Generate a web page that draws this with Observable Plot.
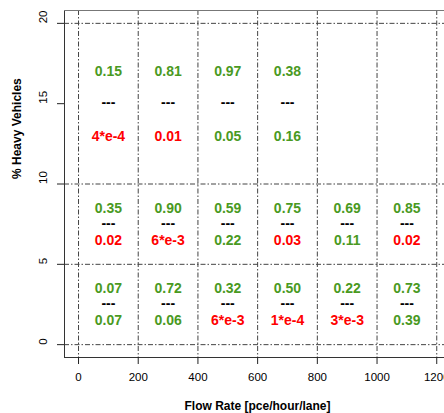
<!DOCTYPE html>
<html>
<head>
<meta charset="utf-8">
<script src="https://cdn.jsdelivr.net/npm/d3@7"></script>
<script src="https://cdn.jsdelivr.net/npm/@observablehq/plot@0.6"></script>
<style>
  html, body { margin: 0; padding: 0; background: #fff; }
  svg { display: block; }
</style>
</head>
<body>
<div id="chart"></div>
<script>
// ---- data ----
const flowCenters = [100, 300, 500, 700, 900, 1100];
const xTicks = [0, 200, 400, 600, 800, 1000, 1200];
const yTicks = [0, 5, 10, 15, 20];
const yGridLines = [0, 5, 10, 20];

// band of % heavy vehicles (centre of band) for each row
const bandTop = 15;
const bandMid = 7.5;
const bandLow = 2.5;

// upper and lower values per cell, row by row
const topUpper = ["0.15", "0.81", "0.97", "0.38"];
const topLower = ["4*e-4", "0.01", "0.05", "0.16"];
const midUpper = ["0.35", "0.90", "0.59", "0.75", "0.69", "0.85"];
const midLower = ["0.02", "6*e-3", "0.22", "0.03", "0.11", "0.02"];
const lowUpper = ["0.07", "0.72", "0.32", "0.50", "0.22", "0.73"];
const lowLower = ["0.07", "0.06", "6*e-3", "1*e-4", "3*e-3", "0.39"];

const xLabel = "Flow Rate [pce/hour/lane]";
const yLabel = "% Heavy Vehicles";

// ---- build table ----
const GREEN = "#4a9a1f", RED = "#ff0000";
const pval = s => Number(s.replace("*e", "e"));
const colorOf = s => pval(s) < 0.05 ? RED : GREEN;

function rows(upper, lower, band, gap) {
  return upper.map((u, i) => ({
    x: flowCenters[i], y: band, upper: u, lower: lower[i], gap
  }));
}
const cells = [
  ...rows(topUpper, topLower, bandTop, 32),
  ...rows(midUpper, midLower, bandMid, 16),
  ...rows(lowUpper, lowLower, bandLow, 16)
];
const cellsBig = cells.filter(d => d.gap === 32);
const cellsSmall = cells.filter(d => d.gap === 16);

const xDomain = [-47, 1226];
const yDomain = [-0.8, 20.8];
const gridStyle = {stroke: "#444", strokeOpacity: 1, strokeWidth: 1, strokeDasharray: "5,2,1.5,2"};
const valStyle = {fontSize: 14, fontWeight: "bold", lineAnchor: "middle"};

const chart = Plot.plot({
  width: 444,
  height: 413,
  marginLeft: 64,
  marginRight: 0,
  marginTop: 10,
  marginBottom: 56,
  style: {fontFamily: "'Liberation Sans', Arial, sans-serif", fontSize: "11px", background: "#fff", color: "#000"},
  x: {domain: xDomain, label: null},
  y: {domain: yDomain, label: null},
  marks: [
    Plot.gridX(xTicks, gridStyle),
    Plot.gridY(yGridLines, gridStyle),
    // frame (left, top, bottom)
    Plot.ruleX([xDomain[0]], {stroke: "#333", strokeWidth: 1}),
    Plot.ruleY([yDomain[0]], {stroke: "#333", strokeWidth: 1}),
    Plot.ruleY([yDomain[1]], {stroke: "#777", strokeWidth: 1}),
    Plot.axisX(xTicks, {tickSize: 7, tickPadding: 8, fontSize: 11.5, stroke: "#222", label: null, tickFormat: d => String(d)}),
    Plot.axisY(yTicks, {tickSize: 7, tickFormat: () => "", stroke: "#222", label: null}),
    Plot.text(yTicks, {y: d => d, text: d => String(d), frameAnchor: "left", dx: -21, rotate: -90, fontSize: 11.5, lineAnchor: "middle"}),
    // values: tall band row
    Plot.text(cellsBig, {x: "x", y: "y", text: "upper", fill: d => colorOf(d.upper), dy: -32, ...valStyle}),
    Plot.text(cellsBig, {x: "x", y: "y", text: () => "---", fill: "#000", dy: -1, ...valStyle}),
    Plot.text(cellsBig, {x: "x", y: "y", text: "lower", fill: d => colorOf(d.lower), dy: 33, ...valStyle}),
    // values: short band rows
    Plot.text(cellsSmall, {x: "x", y: "y", text: "upper", fill: d => colorOf(d.upper), dy: -16, ...valStyle}),
    Plot.text(cellsSmall, {x: "x", y: "y", text: () => "---", fill: "#000", dy: -1, ...valStyle}),
    Plot.text(cellsSmall, {x: "x", y: "y", text: "lower", fill: d => colorOf(d.lower), dy: 16, ...valStyle}),
    // axis titles
    Plot.text([xLabel], {frameAnchor: "bottom", dx: 3, dy: 49, fontSize: 12, fontWeight: "bold", lineAnchor: "middle"}),
    Plot.text([yLabel], {frameAnchor: "left", dx: -47, dy: -5, rotate: -90, fontSize: 12, fontWeight: "bold", lineAnchor: "middle"})
  ]
});
document.getElementById("chart").appendChild(chart);
</script>
</body>
</html>
